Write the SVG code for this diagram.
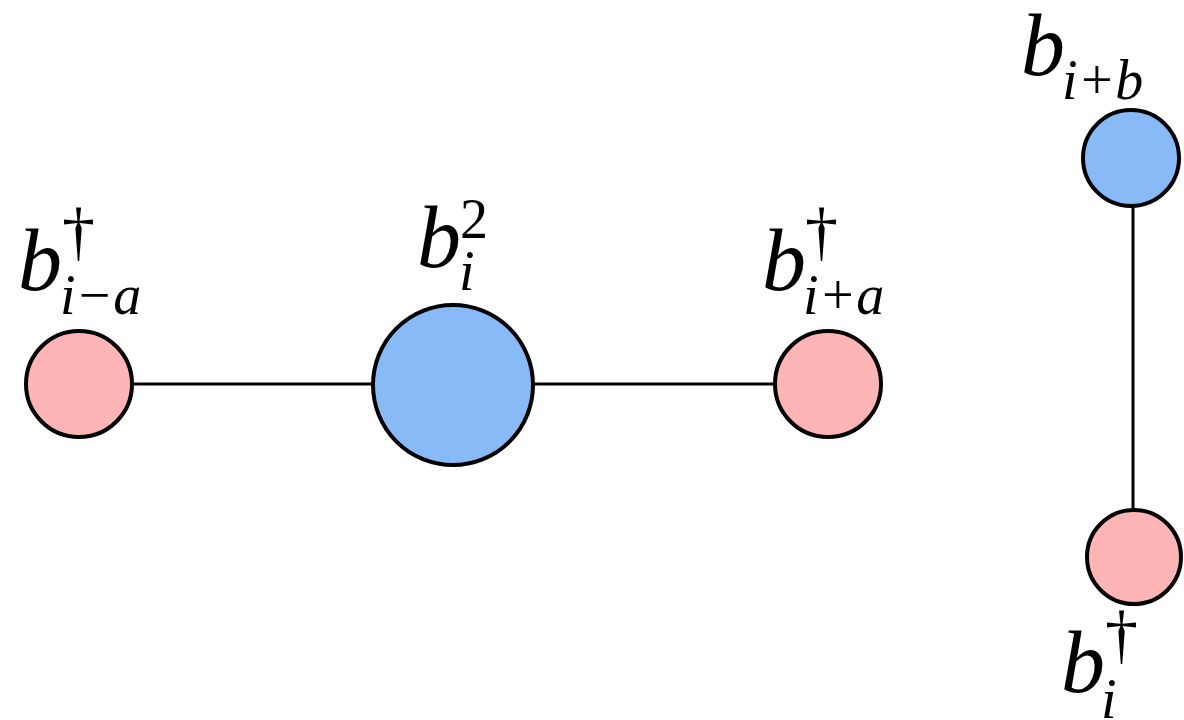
<svg xmlns="http://www.w3.org/2000/svg" width="1184" height="720" viewBox="0 0 1184 720">
<style>
.edge{stroke:#000;stroke-width:3;fill:none}
.pink{fill:#FFB5B5;stroke:#000;stroke-width:4}
.blue{fill:#88BAF8;stroke:#000;stroke-width:4}
.lbl{font-family:"Liberation Serif",serif;fill:#000}
.b{font-style:italic;font-size:88px}
.sub{font-style:italic;font-size:56px}
.dag{font-style:normal;font-size:66px}
.two{font-style:normal;font-size:56px}
</style>
<rect width="1184" height="720" fill="#fff"/>
<g id="connectors">
<line class="edge" x1="79" y1="384" x2="453" y2="384"/>
<line class="edge" x1="453" y1="384" x2="828" y2="384"/>
<line class="edge" x1="1133" y1="158" x2="1133" y2="557"/>
</g>
<g id="node-left">
<circle class="pink" cx="79" cy="384" r="53"/>
<text class="lbl"><tspan class="b" x="18" y="290">b</tspan><tspan class="dag" x="62" y="253">†</tspan><tspan class="sub" x="60" y="314">i−a</tspan></text>
</g>
<g id="node-center">
<circle class="blue" cx="453" cy="385" r="80"/>
<text class="lbl"><tspan class="b" x="417" y="267">b</tspan><tspan class="two" x="460" y="238">2</tspan><tspan class="sub" x="459" y="290">i</tspan></text>
</g>
<g id="node-right">
<circle class="pink" cx="828" cy="384" r="53"/>
<text class="lbl"><tspan class="b" x="762" y="290">b</tspan><tspan class="dag" x="805" y="253">†</tspan><tspan class="sub" x="803" y="314">i+a</tspan></text>
</g>
<g id="node-top">
<circle class="blue" cx="1131" cy="158" r="48"/>
<text class="lbl"><tspan class="b" x="1021" y="75">b</tspan><tspan class="sub" x="1062" y="99">i+b</tspan></text>
</g>
<g id="node-bottom">
<circle class="pink" cx="1134" cy="557" r="47"/>
<text class="lbl"><tspan class="b" x="1061" y="692">b</tspan><tspan class="dag" x="1105" y="656">†</tspan><tspan class="sub" x="1101" y="718">i</tspan></text>
</g>
</svg>
